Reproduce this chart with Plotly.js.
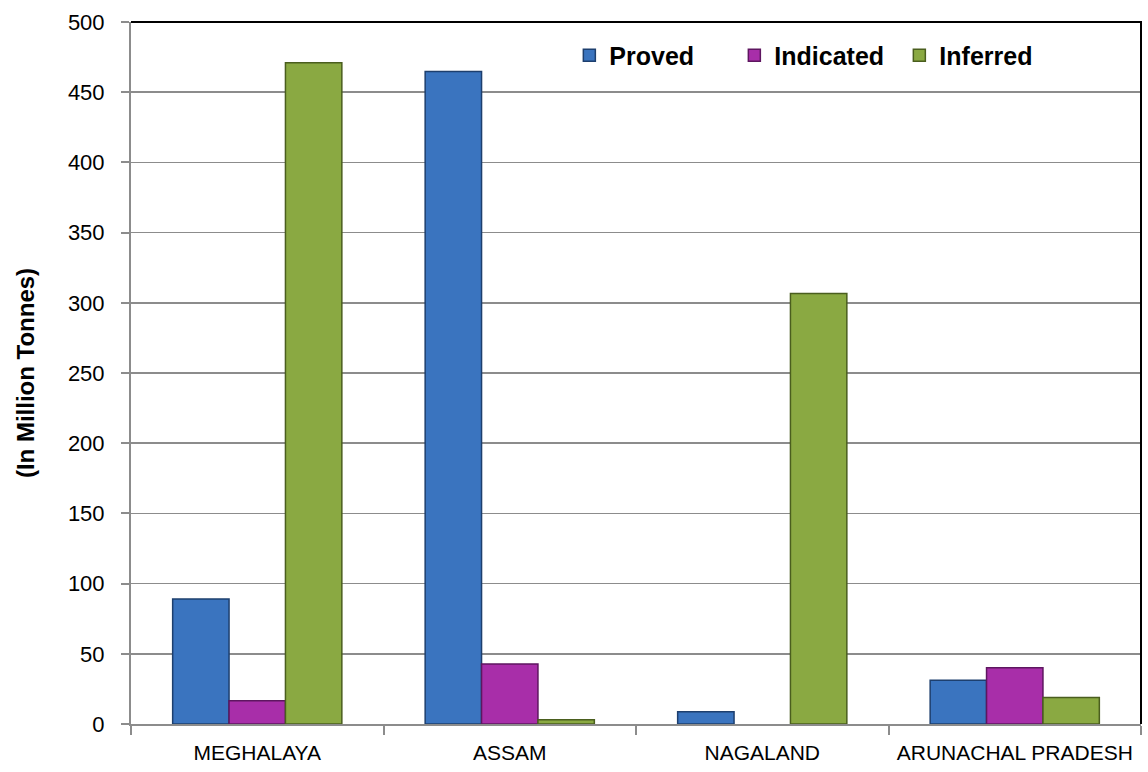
<!DOCTYPE html>
<html>
<head>
<meta charset="utf-8">
<script src="https://cdn.plot.ly/plotly-3.0.1.min.js"></script>
<style>
  html, body { margin: 0; padding: 0; background: #ffffff; }
  #chart { width: 1148px; height: 772px; }
</style>
</head>
<body>
<div id="chart"></div>
<script>
// Coal resources of the north-eastern states, in million tonnes
const states = ["MEGHALAYA", "ASSAM", "NAGALAND", "ARUNACHAL PRADESH"];
const proved = [89.04, 464.78, 8.76, 31.23];
const indicated = [16.51, 42.72, 0, 40.11];
const inferred = [470.93, 3.02, 306.65, 18.89];
const yTicks = [0, 50, 100, 150, 200, 250, 300, 350, 400, 450, 500];

const FONT = '"Liberation Sans", Arial, sans-serif';

function barTrace(name, values, fill, edge) {
  return {
    type: "bar",
    name: name,
    x: states,
    y: values,
    marker: {
      color: fill,
      // no outline on empty bars
      line: { color: edge, width: values.map(v => (v > 0 ? 1.5 : 0)) }
    },
    hoverinfo: "x+y+name"
  };
}

const data = [
  barTrace("Proved", proved, "#3a74bf", "#1d3f6e"),
  barTrace("Indicated", indicated, "#a82ea9", "#5e1660"),
  barTrace("Inferred", inferred, "#8aa942", "#4a5e1e")
];

const layout = {
  width: 1148,
  height: 772,
  margin: { l: 131, r: 7, t: 22, b: 48 },
  paper_bgcolor: "#ffffff",
  plot_bgcolor: "#ffffff",
  barmode: "group",
  bargap: 0.33,
  bargroupgap: 0,
  font: { family: FONT, size: 20, color: "#000000" },
  showlegend: true,
  legend: {
    orientation: "h",
    x: 0.434,
    y: 0.985,
    xanchor: "left",
    yanchor: "top",
    bgcolor: "rgba(0,0,0,0)",
    font: { family: FONT, size: 25, color: "#000000", weight: "bold" },
    itemwidth: 30,
    entrywidth: 120,
    tracegroupgap: 0
  },
  xaxis: {
    type: "category",
    showline: true,
    linecolor: "#8c8c8c",
    linewidth: 2,
    ticks: "outside",
    tickson: "boundaries",
    ticklen: 9,
    tickcolor: "#8c8c8c",
    tickwidth: 2,
    tickangle: 0,
    ticklabelstandoff: 9,
    tickfont: { family: FONT, size: 21, color: "#000000" },
    showgrid: false,
    zeroline: false
  },
  yaxis: {
    range: [0, 500],
    tickvals: yTicks,
    ticktext: yTicks.map(String),
    showline: true,
    linecolor: "#8c8c8c",
    linewidth: 2,
    ticks: "outside",
    ticklen: 8,
    tickcolor: "#8c8c8c",
    tickwidth: 2,
    ticklabelstandoff: 12,
    showgrid: true,
    gridcolor: "#8c8c8c",
    gridwidth: 1.5,
    zeroline: false,
    tickfont: { family: FONT, size: 22, color: "#000000" },
    title: {
      text: "(In Million Tonnes)",
      font: { family: FONT, size: 24, color: "#000000", weight: "bold" },
      standoff: 26
    }
  },
  shapes: [
    {
      type: "path",
      xref: "paper", yref: "paper",
      path: "M 0 1 L 1 1 L 1 0",
      line: { color: "#000000", width: 2 },
      layer: "above"
    }
  ]
};

Plotly.newPlot("chart", data, layout, { displayModeBar: false, staticPlot: true });
</script>
</body>
</html>
